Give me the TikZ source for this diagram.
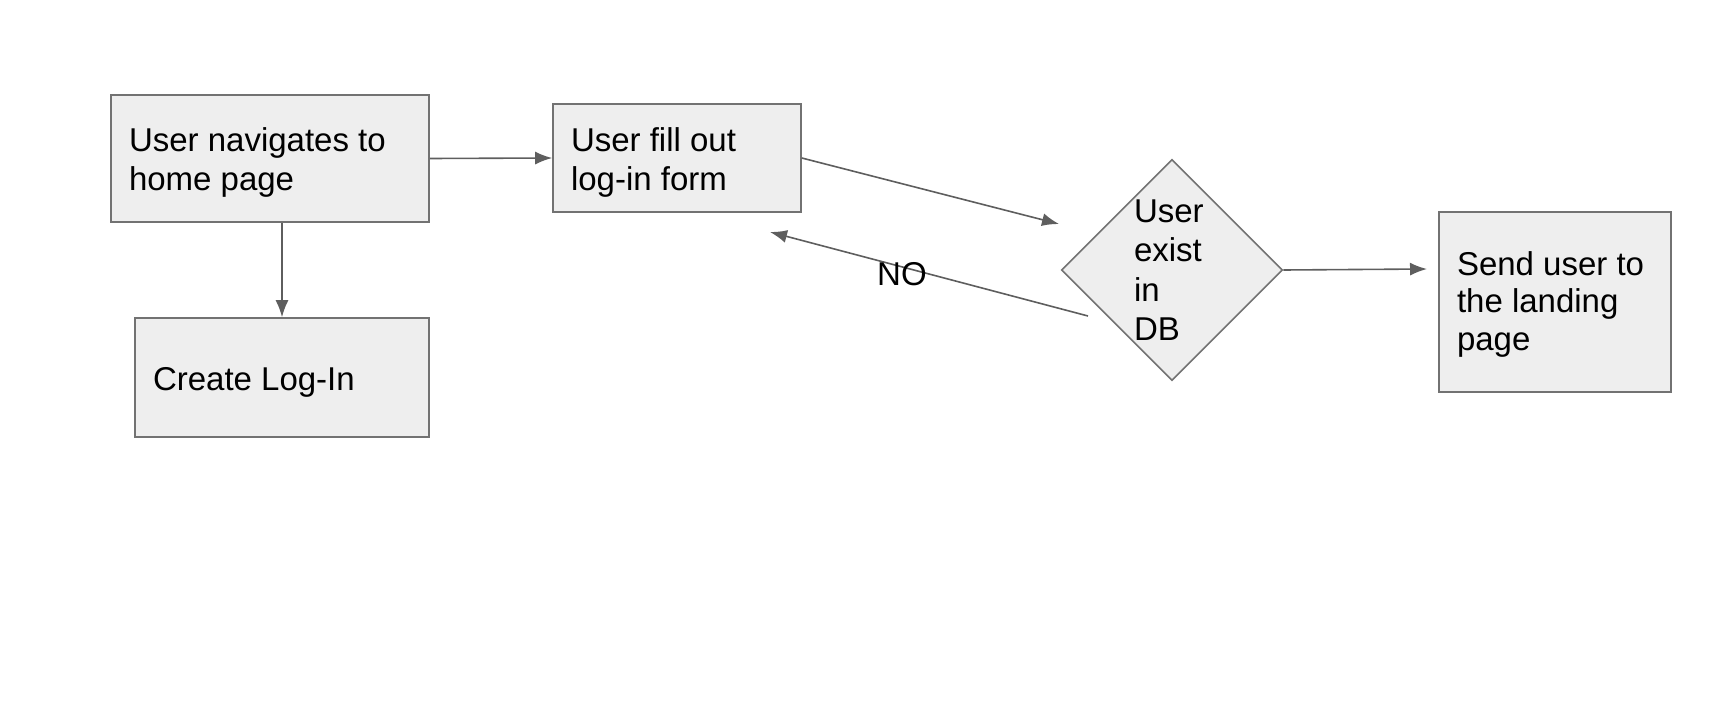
\documentclass[tikz,border=0pt]{standalone}
\usepackage{fontspec}
\setmainfont{Liberation Sans}
\usepackage{tikz}
\usetikzlibrary{shapes.geometric, arrows.meta}

\definecolor{boxfill}{HTML}{EEEEEE}
\definecolor{boxedge}{HTML}{727272}
\definecolor{linkgray}{HTML}{5E5E5E}

\begin{document}
\begin{tikzpicture}[x=1pt, y=-1pt, line width=1.6pt, font=\fontsize{33}{37.5}\selectfont,
        box/.style={rectangle, draw=boxedge, fill=boxfill, inner xsep=18pt, inner ysep=0pt, align=flush left, text height=30pt},
        link/.style={draw=linkgray, -{Latex[length=17pt, width=13pt]}}]
        \useasboundingbox (0, 0) rectangle (1718, 706);

        \node[box, minimum width=318pt, minimum height=127pt, text width=282pt, text depth=45pt, font=\fontsize{33}{39}\selectfont] (home) at (270, 158.5) {User navigates to\\ home page};
        \node[box, minimum width=294pt, minimum height=119pt, text width=258pt, text depth=5pt] (create) at (282, 377.5) {Create Log-In};
        \node[box, minimum width=248pt, minimum height=108pt, text width=212pt, text depth=44pt, font=\fontsize{33}{39}\selectfont] (form) at (677, 158) {User fill out\\ log-in form};
        \node[diamond, draw=boxedge, fill=boxfill, aspect=1, inner sep=0pt, minimum size=221pt, text width=76pt, align=flush left, font=\fontsize{33}{39.5}\selectfont] (db) at (1172, 270) {User\\ exist\\ in\\ DB};
        \node[box, minimum width=232pt, minimum height=180pt, text width=196pt, text depth=84pt] (land) at (1555, 302) {Send user to\\ the landing\\ page};

        \coordinate (dbin) at (1059, 224);
        \coordinate (landin) at (1427, 269);
        \coordinate (noend) at (1088, 316);
        \coordinate (notip) at (770, 232);

        \draw[link] (home.east) -- (form.west);
        \draw[link] (home.south -| create.north) -- (create.north);
        \draw[link] (form.east) -- (dbin);
        \draw[link] (noend) -- node[pos=0.585, yshift=-7pt] (no) {NO} (notip);
        \draw[link] (db.east) -- (landin);
\end{tikzpicture}
\end{document}
